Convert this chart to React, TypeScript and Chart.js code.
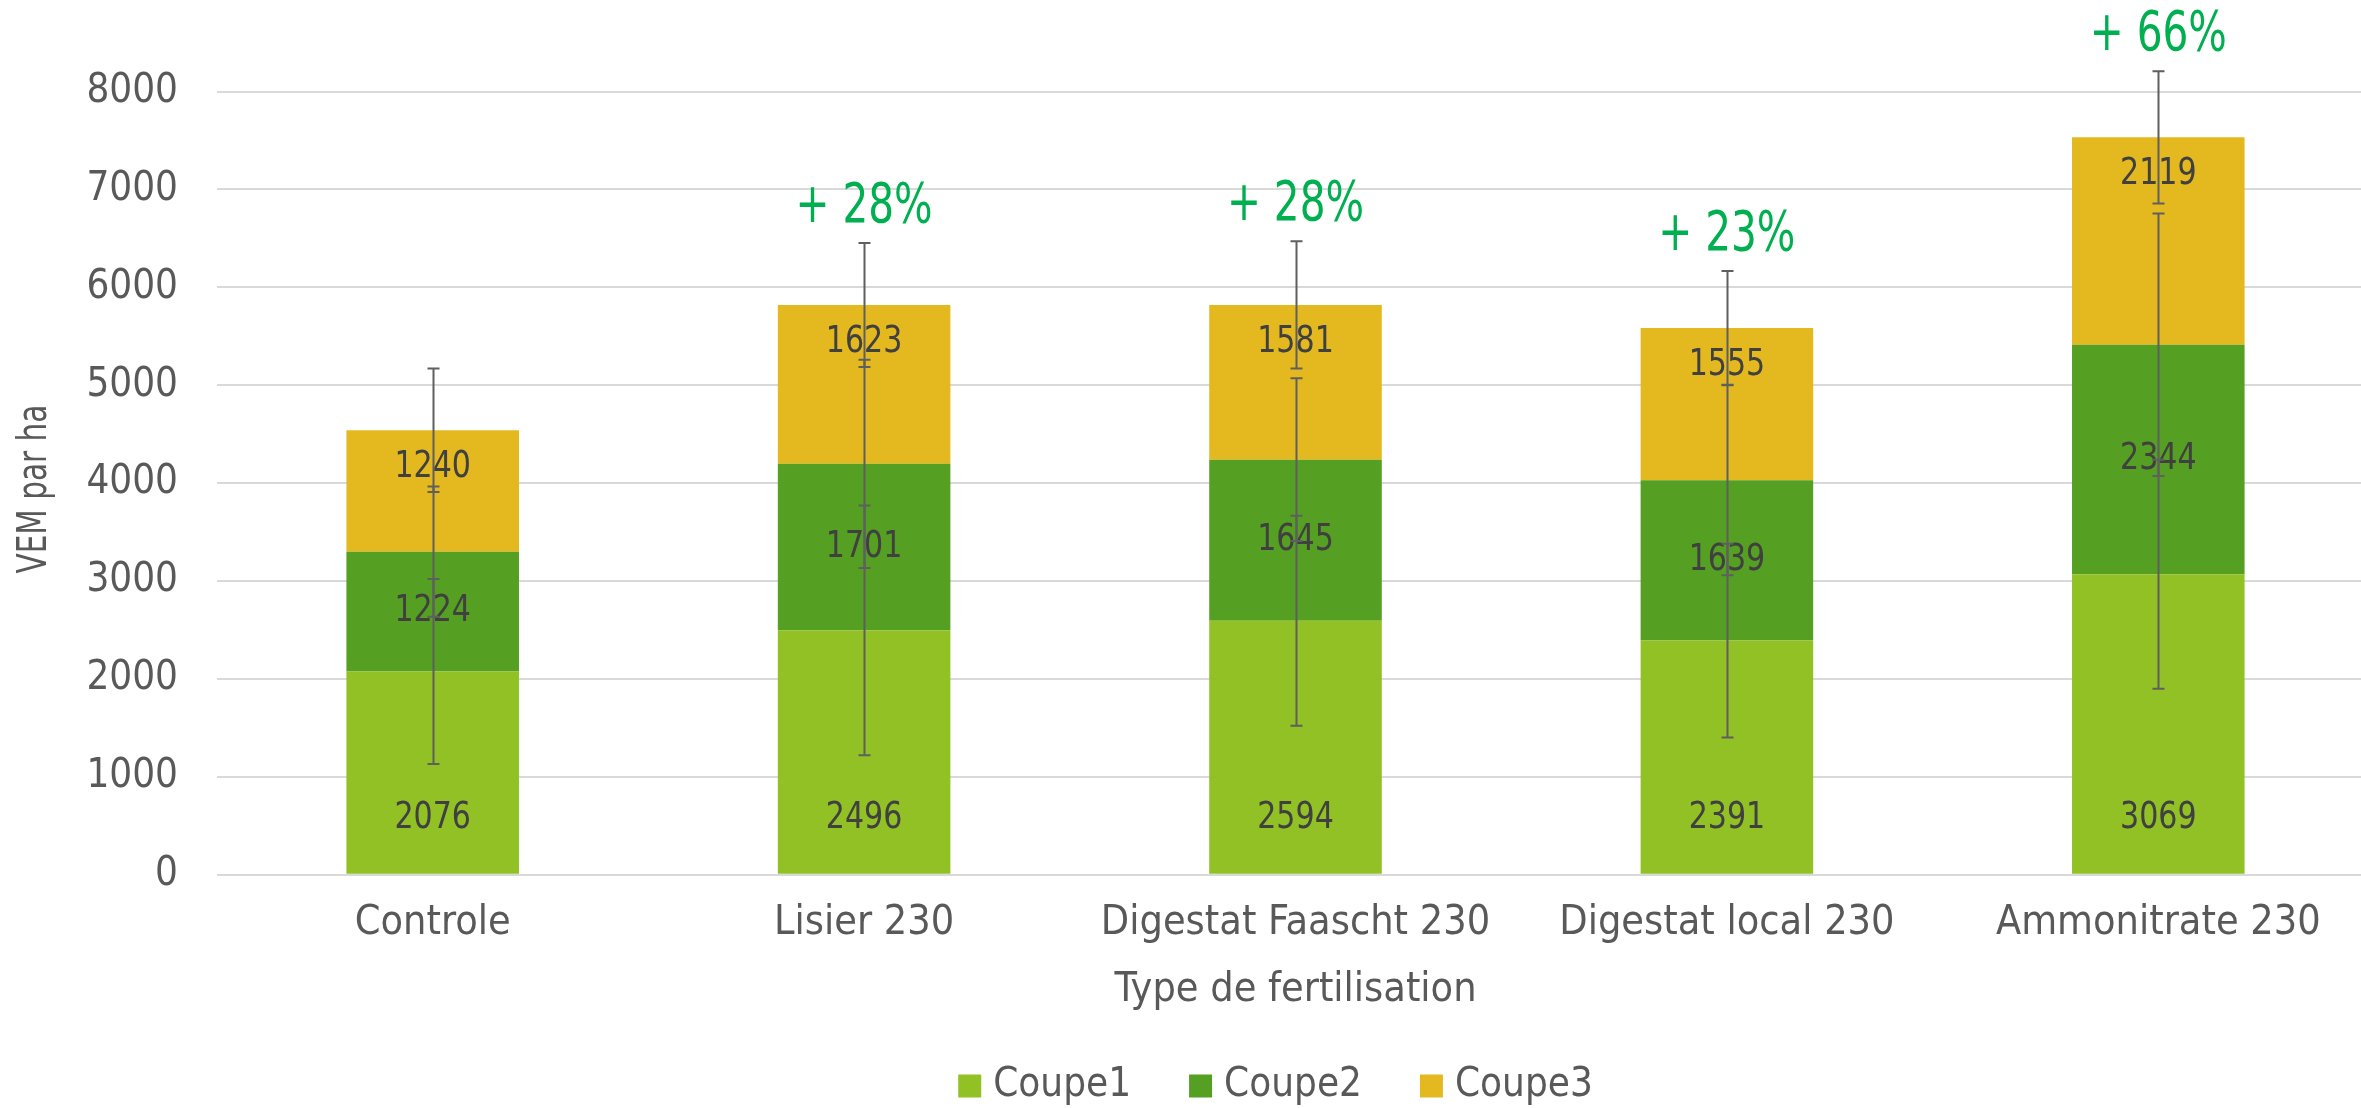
import React, { useEffect, useRef } from "react";
import { Chart, registerables } from "chart.js";

Chart.register(...registerables);

const categories = ["Controle", "Lisier 230", "Digestat Faascht 230", "Digestat local 230", "Ammonitrate 230"];
const seriesNames = ["Coupe1", "Coupe2", "Coupe3"];
const coupe1 = [2076, 2496, 2594, 2391, 3069];
const coupe2 = [1224, 1701, 1645, 1639, 2344];
const coupe3 = [1240, 1623, 1581, 1555, 2119];
const err1 = [945, 1275, 1073, 990, 1170];
const err2 = [665, 1063, 831, 970, 1340];
const err3 = [630, 633, 650, 581, 675];
const gainLabels = ["", "+ 28%", "+ 28%", "+ 23%", "+ 66%"];
const yMin = 0;
const yMax = 8000;
const yStep = 1000;
const xTitle = "Type de fertilisation";
const yTitle = "VEM par ha";

const seriesColors = ["#92C126", "#55A022", "#E4B91F"];
const FONT = "'DejaVu Sans Condensed', 'DejaVu Sans', sans-serif";
const AXIS_COLOR = "#595959";
const LABEL_COLOR = "#404040";
const GAIN_COLOR = "#00B050";
const ERR_COLOR = "#5f5f5f";

function narrowText(ctx: any, text: string, x: number, y: number, sx: number, rot = 0) {
  ctx.save();
  ctx.translate(x, y);
  if (rot) ctx.rotate(rot);
  ctx.scale(sx, 1);
  ctx.fillText(text, 0, 0);
  ctx.restore();
}

const overlayPlugin = {
  id: "overlay",
  afterDraw(chart: any) {
    const ctx = chart.ctx;
    const y = chart.scales.y;
    const ca = chart.chartArea;
    const series = [coupe1, coupe2, coupe3];
    const errs = [err1, err2, err3];
    ctx.save();
    // y axis title
    ctx.font = `41px ${FONT}`;
    ctx.fillStyle = AXIS_COLOR;
    ctx.textAlign = "center";
    ctx.textBaseline = "alphabetic";
    narrowText(ctx, yTitle, 46, (ca.top + ca.bottom) / 2 + 6, 0.8, -Math.PI / 2);
    // data labels
    ctx.font = `38px ${FONT}`;
    ctx.fillStyle = LABEL_COLOR;
    ctx.textAlign = "center";
    ctx.textBaseline = "middle";
    series.forEach((vals, i) => {
      const meta = chart.getDatasetMeta(i);
      vals.forEach((v, j) => {
        const bar = meta.data[j];
        const top = bar.y;
        const base = bar.base;
        let ly = (top + base) / 2;
        if (i === 0) ly = base - 56;
        if (i === 2) ly = top + 37;
        narrowText(ctx, String(v), bar.x, ly, 0.88);
      });
    });
    // error bars
    ctx.strokeStyle = ERR_COLOR;
    ctx.lineWidth = 2;
    categories.forEach((_, j) => {
      let cum = 0;
      series.forEach((vals, i) => {
        cum += vals[j];
        const bar = chart.getDatasetMeta(i).data[j];
        const x = Math.round(bar.x) + 0.5;
        const yHi = y.getPixelForValue(cum + errs[i][j]);
        const yLo = y.getPixelForValue(cum - errs[i][j]);
        ctx.beginPath();
        ctx.moveTo(x, yHi);
        ctx.lineTo(x, yLo);
        ctx.moveTo(x - 6, yHi);
        ctx.lineTo(x + 6, yHi);
        ctx.moveTo(x - 6, yLo);
        ctx.lineTo(x + 6, yLo);
        ctx.stroke();
      });
    });
    // gain labels
    ctx.font = `55px ${FONT}`;
    ctx.fillStyle = GAIN_COLOR;
    ctx.textBaseline = "alphabetic";
    categories.forEach((_, j) => {
      if (!gainLabels[j]) return;
      const total = coupe1[j] + coupe2[j] + coupe3[j];
      const bar = chart.getDatasetMeta(2).data[j];
      const yTop = y.getPixelForValue(total + err3[j]);
      narrowText(ctx, gainLabels[j], bar.x, yTop - 21, 0.82);
    });
    // legend
    ctx.font = `40px ${FONT}`;
    ctx.textAlign = "left";
    ctx.textBaseline = "middle";
    const box = 23, gap = 12, spacing = 58;
    const widths = seriesNames.map((n) => ctx.measureText(n).width);
    const total = widths.reduce((a, w) => a + box + gap + w, 0) + spacing * (seriesNames.length - 1);
    let lx = (ca.left + ca.right) / 2 - 20 - total / 2;
    const ly = 1085;
    seriesNames.forEach((n, i) => {
      ctx.fillStyle = seriesColors[i];
      ctx.fillRect(lx, ly - box / 2 + 1, box, box);
      ctx.fillStyle = AXIS_COLOR;
      ctx.fillText(n, lx + box + gap, ly + 1);
      lx += box + gap + widths[i] + spacing;
    });
    ctx.restore();
  },
};

export default function App() {
  const ref = useRef<HTMLCanvasElement | null>(null);
  useEffect(() => {
    if (!ref.current) return;
    const chart = new Chart(ref.current, {
      type: "bar",
      data: {
        labels: categories,
        datasets: [coupe1, coupe2, coupe3].map((d, i) => ({
          label: seriesNames[i],
          data: d,
          backgroundColor: seriesColors[i],
          borderWidth: 0,
          barPercentage: 0.4,
          categoryPercentage: 1.0,
        })),
      },
      options: {
        animation: false,
        responsive: false,
        devicePixelRatio: 1,
        layout: { padding: { top: 91.5, left: 0, right: 0, bottom: 0 } },
        plugins: {
          legend: { display: false },
          tooltip: { enabled: false },
        },
        scales: {
          x: {
            stacked: true,
            grid: { display: false },
            border: { display: false },
            ticks: {
              color: AXIS_COLOR,
              font: { family: FONT, size: 41 },
              padding: 16,
              maxRotation: 0,
              autoSkip: false,
            },
            title: {
              display: true,
              text: xTitle,
              color: AXIS_COLOR,
              font: { family: FONT, size: 41 },
              padding: { top: 0, bottom: 93 },
            },
            afterFit: (s: any) => {
              s.height = 233.3;
            },
          },
          y: {
            stacked: true,
            min: yMin,
            max: yMax,
            grid: { color: "#d9d9d9", lineWidth: 2, drawTicks: false },
            border: { display: false },
            ticks: {
              stepSize: yStep,
              color: AXIS_COLOR,
              font: { family: FONT, size: 40 },
              padding: 39,
              callback: (v: any) => String(v),
            },
            title: { display: false, text: yTitle },
            afterFit: (s: any) => {
              s.width = 217;
            },
          },
        },
      },
      plugins: [overlayPlugin],
    });
    return () => chart.destroy();
  }, []);
  return (
    <div
      style={{
        position: "fixed",
        left: 0,
        top: 0,
        width: 2361,
        height: 1108,
        overflow: "hidden",
        background: "#ffffff",
      }}
    >
      <canvas ref={ref} width={2374} height={1108} style={{ display: "block", width: 2374, height: 1108 }} />
    </div>
  );
}
